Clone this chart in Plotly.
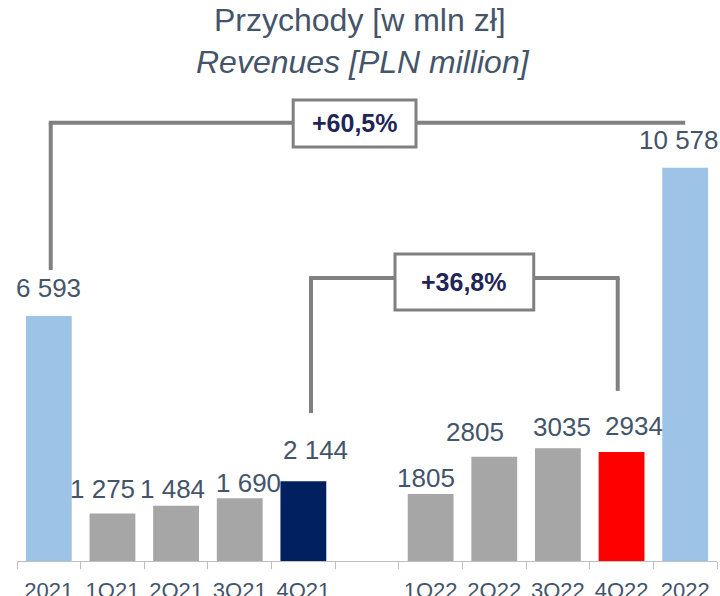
import plotly.graph_objects as go

categories = ["2021", "1Q21", "2Q21", "3Q21", "4Q21", " ", "1Q22", "2Q22", "3Q22", "4Q22", "2022"]
values = [6593, 1275, 1484, 1690, 2144, None, 1805, 2805, 3035, 2934, 10578]
value_labels = ["6 593", "1 275", "1 484", "1 690", "2 144", "", "1805", "2805", "3035", "2934", "10 578"]
bar_colors = ["#9DC3E6", "#A6A6A6", "#A6A6A6", "#A6A6A6", "#002060", "#FFFFFF",
              "#A6A6A6", "#A6A6A6", "#A6A6A6", "#FF0000", "#9DC3E6"]
growth_year = "+60,5%"
growth_q4 = "+36,8%"
title_pl = "Przychody [w mln zł]"
title_en = "Revenues [PLN million]"

# label placement offsets in pixels (styling only, as placed in the original slide)
label_dx = [0, -10, -4, 9, 12, 0, -5, -19, 4, 12, -6]
label_gap = [18, 15, 7, 5, 21, 0, 6, 15, 11, 16, 18]

FONT = "Liberation Sans, Arial, sans-serif"
TXT = "#44546A"
LINE = "#808080"
NAVY_TXT = "#1F2657"

fig = go.Figure()
fig.add_trace(go.Bar(
    x=list(range(len(categories))), y=values,
    marker=dict(color=bar_colors, line=dict(width=0)),
    hoverinfo="skip",
))

annotations = []
for i, (v, t) in enumerate(zip(values, value_labels)):
    if v is None:
        continue
    annotations.append(dict(x=i, y=v, xref="x", yref="y", text=t, showarrow=False,
                            yanchor="bottom", yshift=label_gap[i] - 7, xshift=label_dx[i],
                            font=dict(family=FONT, size=26, color=TXT)))

lw = 4
shapes = []
# bracket 1: 2021 -> 2022
b1_left, b1_right = 0.03, 10.0
b1_top = 11790
b1_bottom = 7830
b1_box = (3.84, 5.77, 11140, 12405)
shapes += [
    dict(type="line", xref="x", yref="y", x0=b1_left, x1=b1_left, y0=b1_bottom, y1=b1_top,
         line=dict(color=LINE, width=lw)),
    dict(type="line", xref="x", yref="y", x0=b1_left - 0.03, x1=b1_right, y0=b1_top, y1=b1_top,
         line=dict(color=LINE, width=lw)),
    dict(type="rect", xref="x", yref="y", x0=b1_box[0], x1=b1_box[1], y0=b1_box[2], y1=b1_box[3],
         line=dict(color=LINE, width=3), fillcolor="white"),
]
# bracket 2: 4Q21 -> 4Q22
b2_left, b2_right = 4.12, 8.94
b2_top = 7615
b2_box = (5.44, 7.62, 6755, 8262)
shapes += [
    dict(type="line", xref="x", yref="y", x0=b2_left, x1=b2_left, y0=3980, y1=b2_top,
         line=dict(color=LINE, width=lw)),
    dict(type="line", xref="x", yref="y", x0=b2_right, x1=b2_right, y0=4575, y1=b2_top,
         line=dict(color=LINE, width=lw)),
    dict(type="line", xref="x", yref="y", x0=b2_left - 0.03, x1=b2_right + 0.03, y0=b2_top, y1=b2_top,
         line=dict(color=LINE, width=lw)),
    dict(type="rect", xref="x", yref="y", x0=b2_box[0], x1=b2_box[1], y0=b2_box[2], y1=b2_box[3],
         line=dict(color=LINE, width=3), fillcolor="white"),
]

annotations += [
    dict(x=(b1_box[0] + b1_box[1]) / 2, y=(b1_box[2] + b1_box[3]) / 2, xref="x", yref="y",
         text="<b>" + growth_year + "</b>", showarrow=False,
         font=dict(family=FONT, size=25, color=NAVY_TXT)),
    dict(x=(b2_box[0] + b2_box[1]) / 2, y=(b2_box[2] + b2_box[3]) / 2, xref="x", yref="y",
         text="<b>" + growth_q4 + "</b>", showarrow=False,
         font=dict(family=FONT, size=25, color=NAVY_TXT)),
    dict(x=0.49, y=1.0, xref="paper", yref="paper", yanchor="middle", yshift=2,
         text=title_pl, showarrow=False, font=dict(family=FONT, size=32, color=TXT)),
    dict(x=0.494, y=1.0, xref="paper", yref="paper", yanchor="middle", yshift=-40,
         text="<i>" + title_en + "</i>", showarrow=False,
         font=dict(family=FONT, size=32, color=TXT)),
]

fig.update_layout(
    width=720, height=596,
    margin=dict(l=17, r=3, t=22, b=35, autoexpand=False),
    paper_bgcolor="white", plot_bgcolor="white",
    showlegend=False,
    bargap=0.28,
    font=dict(family=FONT, color=TXT),
    xaxis=dict(tickmode="array", tickvals=list(range(len(categories))), ticktext=categories,
               range=[-0.5, 10.5], ticks="", showline=True, linecolor="#BFBFBF", linewidth=1,
               showgrid=False, zeroline=False, tickfont=dict(family=FONT, size=22, color=TXT),
               ticklabelstandoff=10, automargin=False, fixedrange=True),
    yaxis=dict(range=[0, 14500], visible=False, showgrid=False, zeroline=False,
               automargin=False, fixedrange=True),
    shapes=shapes,
    annotations=annotations,
)

# boundary tick marks between categories
fig.update_xaxes(minor=dict(tickmode="array", tickvals=[i - 0.5 for i in range(len(categories) + 1)],
                            ticks="outside", ticklen=7, tickcolor="#BFBFBF", tickwidth=1, showgrid=False))

fig.write_html("out.html", config={"displayModeBar": False},
               post_script="document.body.style.margin='0';document.body.style.overflow='hidden';"
                           "document.documentElement.style.overflow='hidden';")
